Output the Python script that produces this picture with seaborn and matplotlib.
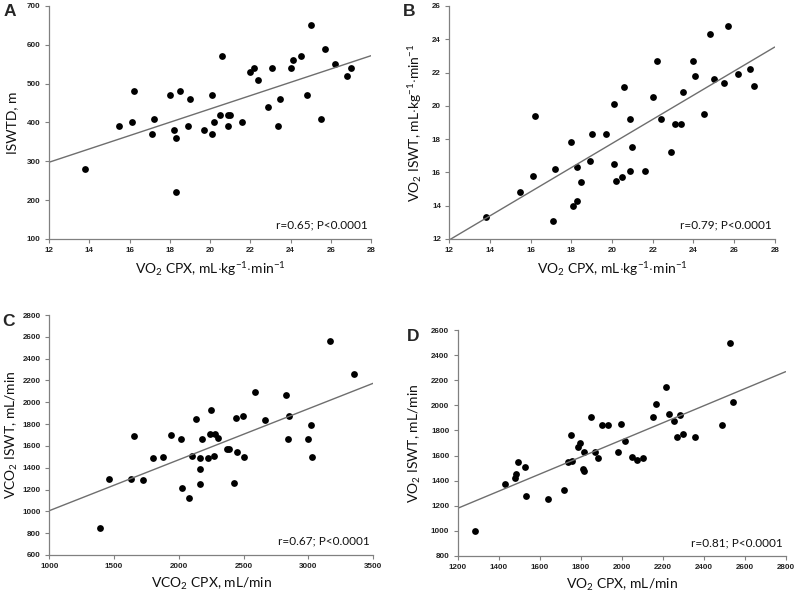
import numpy as np
import matplotlib
matplotlib.use('Agg')
import matplotlib.pyplot as plt
import seaborn as sns

# 1. Data (40 patients each)
# Panel A: VO2 CPX (mL/kg/min) vs ISWT distance (m)
a_x = [13.8, 15.5, 16.1, 16.2, 17.1, 17.2, 18.0, 18.2, 18.3, 18.3, 18.5, 18.9, 19.0,
       19.7, 20.1, 20.1, 20.2, 20.5, 20.6, 20.9, 21.0, 20.9, 21.6, 22.0, 22.2, 22.4,
       22.9, 23.1, 23.4, 23.5, 24.0, 24.1, 24.5, 24.8, 25.0, 25.5, 25.7, 26.2, 26.8, 27.0]
a_y = [280, 390, 400, 480, 370, 410, 470, 380, 360, 220, 480, 390, 460,
       380, 470, 370, 400, 420, 570, 420, 420, 390, 400, 530, 540, 510,
       440, 540, 390, 460, 540, 560, 570, 470, 650, 410, 590, 550, 520, 540]

# Panel B: VO2 CPX vs VO2 ISWT (mL/kg/min)
b_x = [13.8, 15.5, 16.1, 16.2, 17.1, 17.2, 18.0, 18.1, 18.3, 18.3, 18.5, 18.9, 19.0,
       19.7, 20.1, 20.1, 20.2, 20.5, 20.6, 20.9, 20.9, 21.0, 21.6, 22.0, 22.2, 22.4,
       22.9, 23.1, 23.4, 23.5, 24.0, 24.1, 24.5, 24.8, 25.0, 25.5, 25.7, 26.2, 26.8, 27.0]
b_y = [13.3, 14.8, 15.8, 19.4, 13.1, 16.2, 17.8, 14.0, 14.3, 16.3, 15.4, 16.7, 18.3,
       18.3, 20.1, 16.5, 15.5, 15.7, 21.1, 19.2, 16.1, 17.5, 16.1, 20.5, 22.7, 19.2,
       17.2, 18.9, 18.9, 20.8, 22.7, 21.8, 19.5, 24.3, 21.6, 21.4, 24.8, 21.9, 22.2, 21.2]

# Panel C: VCO2 CPX vs VCO2 ISWT (mL/min)
c_x = [1390, 1460, 1630, 1650, 1720, 1800, 1875, 1940, 2020, 2025, 2075, 2100, 2130,
       2160, 2160, 2160, 2175, 2225, 2245, 2240, 2275, 2270, 2305, 2370, 2390, 2425,
       2440, 2445, 2495, 2500, 2590, 2665, 2825, 2850, 2845, 2995, 3020, 3025, 3165, 3350]
c_y = [845, 1300, 1300, 1690, 1285, 1490, 1500, 1700, 1660, 1210, 1120, 1510, 1850,
       1490, 1385, 1250, 1660, 1485, 1930, 1710, 1710, 1510, 1675, 1570, 1570, 1260,
       1855, 1545, 1870, 1500, 2095, 1835, 2070, 1875, 1665, 1665, 1790, 1495, 2560, 2260]

# Panel D: VO2 CPX vs VO2 ISWT (mL/min)
d_x = [1285, 1430, 1480, 1485, 1495, 1530, 1535, 1640, 1720, 1740, 1757, 1752, 1785,
       1795, 1810, 1817, 1815, 1853, 1868, 1884, 1905, 1935, 1997, 1980, 2015, 2050,
       2075, 2105, 2155, 2170, 2215, 2233, 2256, 2287, 2272, 2300, 2357, 2490, 2530, 2542]
d_y = [1000, 1370, 1425, 1455, 1545, 1510, 1280, 1255, 1325, 1550, 1555, 1765, 1665,
       1700, 1490, 1475, 1625, 1910, 1625, 1580, 1840, 1840, 1855, 1630, 1720, 1590,
       1565, 1580, 1905, 2010, 2150, 1930, 1878, 1923, 1750, 1775, 1745, 1843, 2494, 2030]

letters = ['A', 'B', 'C', 'D']
stats_text = ['r=0.65; P<0.0001', 'r=0.79; P<0.0001', 'r=0.67; P<0.0001', 'r=0.81; P<0.0001']
x_labels = [r'VO$_2$ CPX, mL$\cdot$kg$^{-1}$$\cdot$min$^{-1}$',
            r'VO$_2$ CPX, mL$\cdot$kg$^{-1}$$\cdot$min$^{-1}$',
            r'VCO$_2$ CPX, mL/min',
            r'VO$_2$ CPX, mL/min']
y_labels = ['ISWTD, m',
            r'VO$_2$ ISWT, mL$\cdot$kg$^{-1}$$\cdot$min$^{-1}$',
            r'VCO$_2$ ISWT, mL/min',
            r'VO$_2$ ISWT, mL/min']
x_ticks = [np.arange(12, 29, 2), np.arange(12, 29, 2),
           np.arange(1000, 3501, 500), np.arange(1200, 2801, 200)]
y_ticks = [np.arange(100, 701, 100), np.arange(12, 27, 2),
           np.arange(600, 2801, 200), np.arange(800, 2601, 200)]

# 2. Figure layout
sns.set_style("white")
plt.rcParams['font.family'] = ['Lato', 'DejaVu Sans']
plt.rcParams['mathtext.fontset'] = 'custom'
plt.rcParams['mathtext.rm'] = 'Lato'
plt.rcParams['mathtext.it'] = 'Lato:italic'
plt.rcParams['mathtext.bf'] = 'Lato:bold'

fig = plt.figure(figsize=(8, 5.93), dpi=100)
positions = [[0.0613, 0.597, 0.4025, 0.393],
             [0.5616, 0.597, 0.4068, 0.393],
             [0.0616, 0.0641, 0.405, 0.4047],
             [0.572, 0.0624, 0.410, 0.381]]
ylabel_pads = [6, 6, 1.5, 6]
data = [(a_x, a_y), (b_x, b_y), (c_x, c_y), (d_x, d_y)]

for i, (xs, ys) in enumerate(data):
    ax = fig.add_axes(positions[i])
    ax.set_xlim(x_ticks[i][0], x_ticks[i][-1])
    ax.set_ylim(y_ticks[i][0], y_ticks[i][-1])
    sns.regplot(x=np.array(xs), y=np.array(ys), ax=ax, ci=None, truncate=False,
                scatter_kws=dict(s=24, color='black', linewidths=0, alpha=1),
                line_kws=dict(color='#6e6e6e', lw=1.0))
    ax.set_xlim(x_ticks[i][0], x_ticks[i][-1])
    ax.set_ylim(y_ticks[i][0], y_ticks[i][-1])
    ax.set_xticks(x_ticks[i])
    ax.set_yticks(y_ticks[i])
    for lab in ax.get_xticklabels() + ax.get_yticklabels():
        lab.set_family('Liberation Sans')
        lab.set_fontsize(5.8)
        lab.set_fontweight('bold')
    ax.tick_params(direction='out', length=3, width=0.8, color='#808080',
                   labelcolor='#222222', pad=3, left=True, bottom=True)
    sns.despine(ax=ax)
    for side in ['left', 'bottom']:
        ax.spines[side].set_color('#808080')
        ax.spines[side].set_linewidth(0.9)
    ax.set_xlabel(x_labels[i], fontsize=10, labelpad=4, color='#111111')
    ax.set_ylabel(y_labels[i], fontsize=10, labelpad=ylabel_pads[i], color='#111111')
    ax.text(0.99, 0.035, stats_text[i], transform=ax.transAxes, ha='right',
            va='bottom', fontsize=8.5, color='#111111')

# Panel letters
letter_pos = [(0.004, 0.993), (0.503, 0.993), (0.003, 0.471), (0.509, 0.446)]
for letter, (lx, ly) in zip(letters, letter_pos):
    fig.text(lx, ly, letter, fontsize=12.5, fontweight='bold',
             family='Liberation Sans', ha='left', va='top')

plt.savefig('out.png', dpi=100)
